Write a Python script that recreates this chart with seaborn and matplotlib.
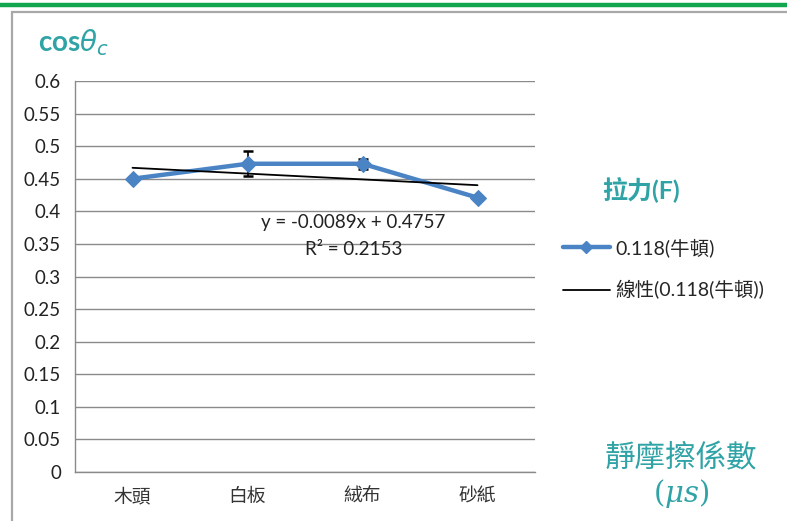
import numpy as np
import pandas as pd
import matplotlib
matplotlib.use("Agg")
import matplotlib.pyplot as plt
import seaborn as sns
from matplotlib.lines import Line2D
from matplotlib.patches import Rectangle

# ---- data ----
categories = ["木頭", "白板", "絨布", "砂紙"]
values = [0.450, 0.473, 0.473, 0.421]
errors = [0.002, 0.019, 0.008, 0.002]
trend_slope = -0.0089
trend_intercept = 0.4757
y_ticks = [0, 0.05, 0.1, 0.15, 0.2, 0.25, 0.3, 0.35, 0.4, 0.45, 0.5, 0.55, 0.6]
y_tick_labels = ["0", "0.05", "0.1", "0.15", "0.2", "0.25", "0.3", "0.35",
                 "0.4", "0.45", "0.5", "0.55", "0.6"]
series_name = "0.118(牛頓)"
trend_name = "線性(0.118(牛頓))"
legend_title = "拉力(F)"
eq_text = "y = -0.0089x + 0.4757"
r2_text = "R² = 0.2153"

sns.set_theme(style="white")
plt.rcParams["font.family"] = ["Lato", "Noto Sans CJK TC", "DejaVu Sans"]

W, H = 787, 521
fig = plt.figure(figsize=(W / 100, H / 100), dpi=100)
fig.patch.set_facecolor("white")

def fx(px):
    return px / W

def fy(py):
    return 1 - py / H

ax = fig.add_axes([fx(75), fy(472), fx(535) - fx(75), fy(81) - fy(472)])

blue = "#4a84c4"
teal = "#2fa3a6"
grid_c = "#8a8a8a"

pos = np.arange(len(categories))
df = pd.DataFrame({"pos": pos, "value": values, "cat": categories})

ax.errorbar(pos, values, yerr=errors, fmt="none", ecolor="black",
            elinewidth=1.2, capsize=3.5, capthick=1.8, zorder=2)
sns.lineplot(data=df, x="pos", y="value", ax=ax, color=blue, linewidth=3.2,
             marker="D", markersize=8.5, markeredgecolor=blue, zorder=3)

xt = pos + 1
trend = trend_slope * xt + trend_intercept
sns.lineplot(x=pos, y=trend, ax=ax, color="black", linewidth=1.3, zorder=5)

ax.set_xlim(-0.5, len(categories) - 0.5)
ax.set_ylim(0, 0.6)
ax.set_yticks(y_ticks)
ax.set_yticklabels(y_tick_labels, fontsize=13.5, color="#222222")
ax.set_xticks(pos)
ax.set_xticklabels(categories, fontsize=13.5, color="#333333")
ax.set_xticks(np.arange(-0.5, len(categories), 1.0), minor=True)
ax.tick_params(axis="x", which="major", length=0, pad=11)
ax.tick_params(axis="x", which="minor", length=5, color=grid_c, width=1, direction="out")
ax.tick_params(axis="y", which="major", length=5, color=grid_c, width=1, direction="out", pad=5)
ax.yaxis.grid(True, color=grid_c, linewidth=1)
ax.xaxis.grid(False)
ax.set_axisbelow(True)
ax.set_xlabel("")
ax.set_ylabel("")
for s in ["top", "right"]:
    ax.spines[s].set_visible(False)
for s in ["left", "bottom"]:
    ax.spines[s].set_color(grid_c)
    ax.spines[s].set_linewidth(1)
if ax.get_legend():
    ax.get_legend().remove()

ax.text(1.92, 0.383, eq_text, fontsize=13.5, ha="center", va="center", color="#222222",
        family=["Lato", "DejaVu Sans"])
ax.text(1.92, 0.342, r2_text, fontsize=13.5, ha="center", va="center", color="#222222",
        family=["Lato", "DejaVu Sans"])

# figure decorations
fig.add_artist(Line2D([0, 1], [fy(5), fy(5)], color="#12a64e", linewidth=3.2,
                      transform=fig.transFigure))
fig.add_artist(Rectangle((fx(12), fy(530)), 1.2, fy(12) - fy(530), fill=False,
                         edgecolor="#a8a8a8", linewidth=1.6, transform=fig.transFigure))

fig.text(fx(38), fy(43), r"cos$\theta_c$", fontsize=20, fontweight="bold",
         color=teal, ha="left", va="center")

fig.text(fx(641), fy(190), legend_title, fontsize=18, color=teal, ha="center",
         va="center", fontweight="bold")

handles = [Line2D([], [], color=blue, linewidth=3.2, marker="D", markersize=6),
           Line2D([], [], color="black", linewidth=1.3)]
fig.legend(handles, [series_name, trend_name], loc="upper left",
           bbox_to_anchor=(fx(563), fy(238)), frameon=False, fontsize=14,
           handlelength=2.4, handletextpad=0.3, labelspacing=1.2, borderpad=0,
           borderaxespad=0)

fig.text(fx(681), fy(458), "靜摩擦係數", fontsize=22, color=teal, ha="center", va="center")
fig.text(fx(681), fy(493), r"$(\mu s)$", fontsize=21, color=teal, ha="center",
         va="center", fontweight="bold", math_fontfamily="dejavuserif")

fig.savefig("out.png", dpi=100)
